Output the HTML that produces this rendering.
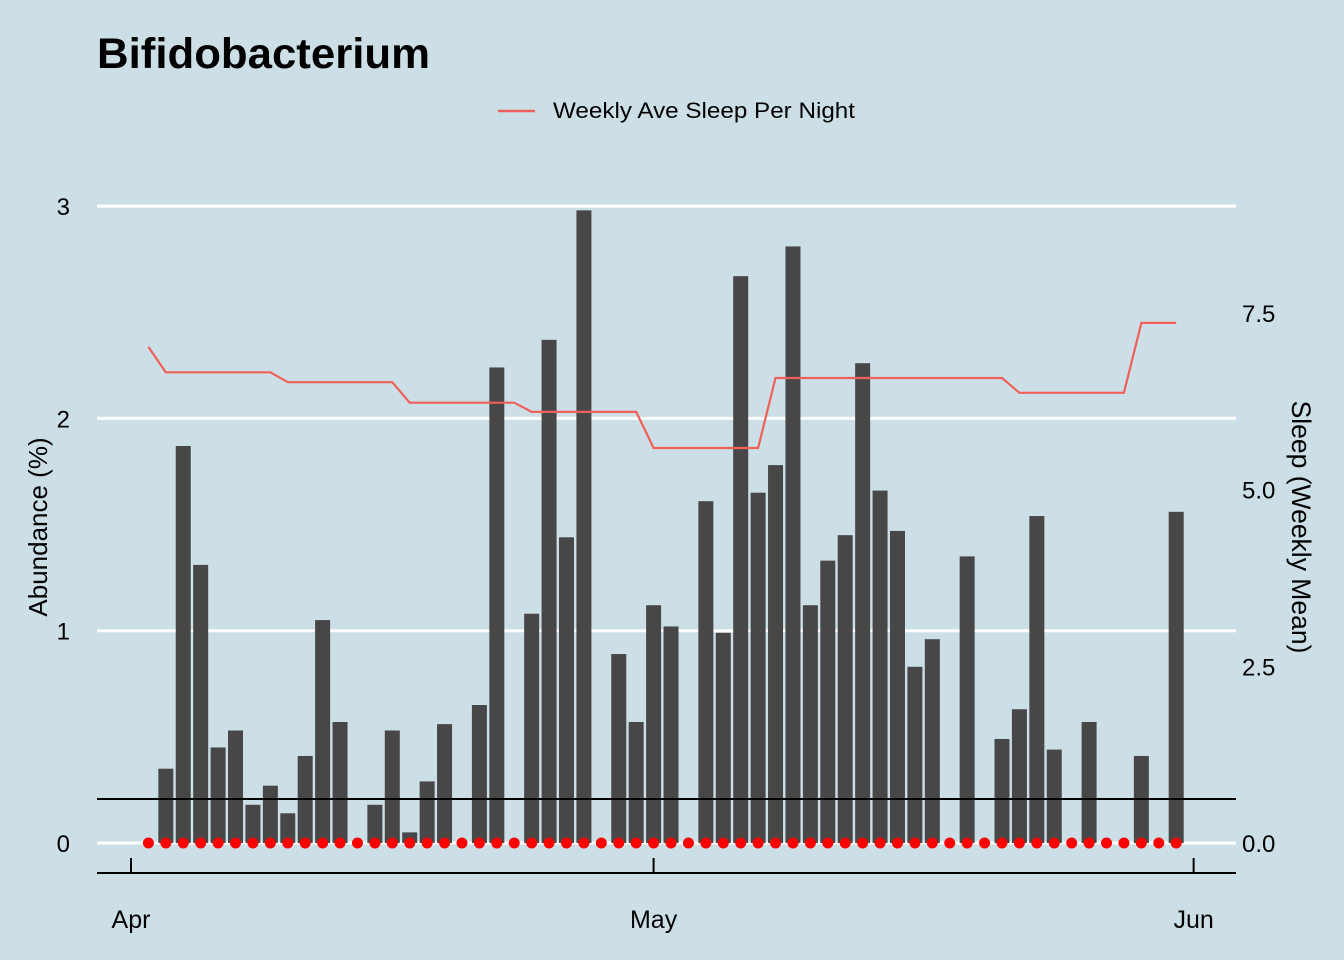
<!DOCTYPE html>
<html><head><meta charset="utf-8">
<style>
body{margin:0;background:#cddfe6;}
svg{display:block;font-family:"Liberation Sans",Arial,sans-serif;}
</style></head><body>
<svg id="chart" width="1344" height="960" viewBox="0 0 1344 960">
<rect width="1344" height="960" fill="#cddfe6"/>
<text x="97" y="68" font-size="43" font-weight="bold" fill="#000" textLength="333" lengthAdjust="spacingAndGlyphs">Bifidobacterium</text>
<g>
<line x1="498" y1="111" x2="535" y2="111" stroke="#f0605a" stroke-width="2.4"/>
<text x="553" y="118" font-size="22.5" fill="#000" textLength="302" lengthAdjust="spacingAndGlyphs">Weekly Ave Sleep Per Night</text>
</g>
<g id="grid"></g>
<g id="bars"></g>
<g id="dots"></g>
<path id="sleepline" fill="none" stroke="#f0605a" stroke-width="2.2"/>
<line x1="97" y1="799" x2="1236" y2="799" stroke="#000" stroke-width="2"/>
<g id="axes"></g>
<text transform="translate(47,527) rotate(-90)" text-anchor="middle" font-size="26">Abundance (%)</text>
<text transform="translate(1292,527) rotate(90)" text-anchor="middle" font-size="26.5">Sleep (Weekly Mean)</text>
</svg>
<script>
const abundance = [0,0.35,1.87,1.31,0.45,0.53,0.18,0.27,0.14,0.41,1.05,0.57,0,0.18,0.53,0.05,0.29,0.56,0,0.65,2.24,0,1.08,2.37,1.44,2.98,0,0.89,0.57,1.12,1.02,0,1.61,0.99,2.67,1.65,1.78,2.81,1.12,1.33,1.45,2.26,1.66,1.47,0.83,0.96,0,1.35,0,0.49,0.63,1.54,0.44,0,0.57,0,0,0.41,0,1.56];
const sleep = [7.02,6.66,6.66,6.66,6.66,6.66,6.66,6.66,6.52,6.52,6.52,6.52,6.52,6.52,6.52,6.23,6.23,6.23,6.23,6.23,6.23,6.23,6.10,6.10,6.10,6.10,6.10,6.10,6.10,5.59,5.59,5.59,5.59,5.59,5.59,5.59,6.58,6.58,6.58,6.58,6.58,6.58,6.58,6.58,6.58,6.58,6.58,6.58,6.58,6.58,6.37,6.37,6.37,6.37,6.37,6.37,6.37,7.36,7.36,7.36];
const startDay = 1;
const leftTicks = [0,1,2,3];
const rightTicks = ["0.0","2.5","5.0","7.5"];
const rightTickVals = [0,2.5,5,7.5];
const xTickLabels = ["Apr","May","Jun"];
const xTickDays = [0,30,61];

const ns="http://www.w3.org/2000/svg";
const xs = d => 131 + d*17.42;
const yl = v => 843 - v*212.3;
const yr = v => 843 - v*70.67;
function mk(tag, attrs, parent){const e=document.createElementNS(ns,tag);for(const k in attrs)e.setAttribute(k,attrs[k]);parent.appendChild(e);return e;}
const grid=document.getElementById('grid'), bars=document.getElementById('bars'), dots=document.getElementById('dots'), axes=document.getElementById('axes');
leftTicks.forEach(t=>{
  const l=mk('line',{x1:97,x2:1236,y1:yl(t),y2:yl(t),stroke:'#fff','stroke-width':3},grid);
  
  
  const tx=mk('text',{x:70,y:yl(t)+9,'text-anchor':'end','font-size':24},axes);
  tx.textContent=t;
  
  
});
rightTickVals.forEach((v,i)=>{
  const tx=mk('text',{x:1242,y:yr(v)+9,'font-size':24},axes);
  tx.textContent=rightTicks[i];
  
  
});
abundance.forEach((v,i)=>{
  const cx=xs(startDay+i);
  if(v>0){
    const b=mk('rect',{x:cx-7.5,y:yl(v),width:15,height:yl(0)-yl(v),fill:'#474747'},bars);
    
    
  }
  const c=mk('circle',{cx:cx,cy:843,r:5.5,fill:'#ff0000'},dots);
  
  
});
document.getElementById('sleepline').setAttribute('d', sleep.map((v,i)=>(i?'L':'M')+xs(startDay+i).toFixed(1)+','+yr(v).toFixed(1)).join(''));
const ax=mk('line',{x1:97,x2:1236,y1:873,y2:873,stroke:'#000','stroke-width':2},axes);


xTickDays.forEach((d,i)=>{
  const t=mk('line',{x1:xs(d),x2:xs(d),y1:858,y2:873,stroke:'#000','stroke-width':2},axes);
  
  
  const tx=mk('text',{x:xs(d),y:928,'text-anchor':'middle','font-size':25},axes);
  tx.textContent=xTickLabels[i];
  
  
});
</script>
</body></html>
